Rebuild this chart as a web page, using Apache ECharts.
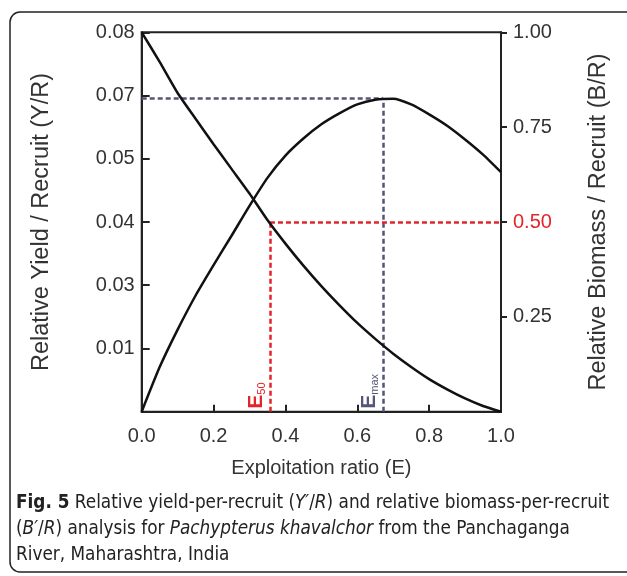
<!DOCTYPE html>
<html><head><meta charset="utf-8">
<script src="https://cdn.jsdelivr.net/npm/echarts@6/dist/echarts.min.js"></script>
<style>html,body{margin:0;padding:0;background:#fff}#c{width:627px;height:576px}</style>
</head><body><div id="c"></div>
<script>
// Exploitation ratio E
const exploitation = [0,0.05,0.10,0.15,0.20,0.25,0.30,0.35,0.40,0.45,0.50,0.55,0.60,0.65,0.70,0.75,0.80,0.85,0.90,0.95,1.00];
// Relative yield per recruit (left axis)
const yieldPerRecruit = [0,0.0094,0.0173,0.0245,0.0309,0.0371,0.0434,0.0493,0.0540,0.0576,0.0606,0.0629,0.0648,0.0658,0.0660,0.0648,0.0627,0.0603,0.0574,0.0542,0.0505];
// Relative biomass per recruit (right axis)
const biomassPerRecruit = [1.000,0.922,0.840,0.772,0.705,0.640,0.575,0.505,0.443,0.385,0.331,0.281,0.234,0.192,0.153,0.118,0.086,0.059,0.035,0.015,0.000];
// Reference points
const E50 = 0.357;
const Emax = 0.672;
const yieldMax = 0.0660;
const biomass50 = 0.50;
// Tick labels
const xTickLabels = ['0.0','0.2','0.4','0.6','0.8','1.0'];
const leftTickValues = [0.08/6, 0.16/6, 0.24/6, 0.32/6, 0.40/6, 0.48/6];
const leftTickLabels = ['0.01','0.03','0.04','0.05','0.07','0.08'];
const rightTickValues = [0.25,0.50,0.75,1.00];
const rightTickLabels = ['0.25','0.50','0.75','1.00'];

const FONT = "'Liberation Sans', Arial, sans-serif";
const CAP = "'DejaVu Sans Condensed', sans-serif";
const CS = 18.8;
const AX = '#222';
const RED = '#e3242b';
const SLATE = '#55557a';

const chart = echarts.init(document.getElementById('c'), null, {renderer:'canvas'});
const pairs = (ys) => exploitation.map((e,i)=>[e, ys[i]]);

chart.setOption({
  animation:false,
  backgroundColor:'#fff',
  textStyle:{fontFamily:FONT},
  grid:{left:141.7, right:126, top:32.3, bottom:164.3, show:true, borderColor:AX, borderWidth:2, backgroundColor:'transparent'},
  xAxis:{
    type:'value', min:0, max:1, interval:0.2,
    axisLine:{lineStyle:{color:AX,width:2}},
    axisTick:{inside:true,length:7,lineStyle:{color:AX,width:2}},
    splitLine:{show:false},
    axisLabel:{fontSize:20, color:'#333', margin:15, fontFamily:FONT,
      formatter:(v)=>xTickLabels[Math.round(v/0.2)]},
    name:'Exploitation ratio (E)', nameLocation:'middle', nameGap:47,
    nameTextStyle:{fontSize:20, color:'#333', fontFamily:FONT}
  },
  yAxis:[{
    type:'value', min:0, max:0.08, position:'left',
    axisLine:{show:true,lineStyle:{color:AX,width:2}},
    axisTick:{show:true,inside:true,length:8,lineStyle:{color:AX,width:2},customValues:leftTickValues},
    splitLine:{show:false},
    axisLabel:{fontSize:20,color:'#333',margin:7,fontFamily:FONT,customValues:leftTickValues,
      formatter:(v)=>{let best=0,d=1;leftTickValues.forEach((t,i)=>{if(Math.abs(t-v)<d){d=Math.abs(t-v);best=i;}});return leftTickLabels[best];}},
    name:'Relative Yield / Recruit (Y/R)', nameLocation:'middle', nameGap:88,
    nameTextStyle:{fontSize:23.5,color:'#333',fontFamily:FONT}
  },{
    type:'value', min:0, max:1, position:'right',
    axisLine:{show:true,lineStyle:{color:AX,width:2}},
    axisTick:{show:true,inside:false,length:6,lineStyle:{color:AX,width:2},customValues:rightTickValues},
    splitLine:{show:false},
    axisLabel:{fontSize:20,margin:12,fontFamily:FONT,customValues:rightTickValues,
      color:(v)=>Math.abs(v-biomass50)<1e-6?RED:'#333',
      formatter:(v)=>rightTickLabels[Math.round(v/0.25)-1]},
    name:'Relative Biomass / Recruit (B/R)', nameLocation:'middle', nameGap:86,
    nameTextStyle:{fontSize:23.5,color:'#333',fontFamily:FONT}
  }],
  series:[{
    name:'Y/R', type:'line', xAxisIndex:0, yAxisIndex:0, data:pairs(yieldPerRecruit),
    showSymbol:false, smooth:0.2, lineStyle:{color:'#111',width:2.5}, z:5,
    markLine:{silent:true, symbol:['none','none'], animation:false,
      lineStyle:{color:SLATE,type:[5,3],width:2.5},
      data:[
        [{coord:[0,yieldMax],label:{show:false}},{coord:[Emax,yieldMax]}],
        [{coord:[Emax,0],label:{show:true,position:'insideStartTop',distance:3,
          formatter:'{e|E}{s|max}',
          rich:{e:{fontSize:21,fontWeight:'bold',color:SLATE,fontFamily:FONT,verticalAlign:'bottom'},
                s:{fontSize:11,color:SLATE,fontFamily:FONT,verticalAlign:'bottom'}}}},
         {coord:[Emax,yieldMax]}]
      ]}
  },{
    name:'B/R', type:'line', xAxisIndex:0, yAxisIndex:1, data:pairs(biomassPerRecruit),
    showSymbol:false, smooth:0.2, lineStyle:{color:'#111',width:2.5}, z:5,
    markLine:{silent:true, symbol:['none','none'], animation:false,
      lineStyle:{color:RED,type:[5,3],width:2.5},
      data:[
        [{coord:[E50,0],label:{show:true,position:'insideStartTop',distance:3,
          formatter:'{e|E}{s|50}',
          rich:{e:{fontSize:21,fontWeight:'bold',color:RED,fontFamily:FONT,verticalAlign:'bottom'},
                s:{fontSize:11,color:RED,fontFamily:FONT,verticalAlign:'bottom'}}}},
         {coord:[E50,biomass50]}],
        [{coord:[E50,biomass50],label:{show:false}},{coord:[1,biomass50]}]
      ]}
  }],
  graphic:[
    {type:'rect', z:-10, silent:true, shape:{x:10,y:12,width:650,height:560,r:10},
      style:{fill:'none',stroke:'#222',lineWidth:1.5}},
    {type:'text', left:16, top:494, silent:true, style:{
      text:'{b|Fig. 5} Relative yield-per-recruit ({i|Y\u2032}/{i|R}) and relative biomass-per-recruit',
      rich:{b:{fontWeight:'bold',fontSize:CS,fontFamily:CAP,fill:'#222'},
            i:{fontStyle:'italic',fontSize:CS,fontFamily:CAP,fill:'#222'}},
      fontSize:CS, fontFamily:CAP, fill:'#222'}},
    {type:'text', left:16, top:520, silent:true, style:{
      text:'({i|B\u2032}/{i|R}) analysis for {i|Pachypterus khavalchor} from the Panchaganga',
      rich:{i:{fontStyle:'italic',fontSize:CS,fontFamily:CAP,fill:'#222'}},
      fontSize:CS, fontFamily:CAP, fill:'#222'}},
    {type:'text', left:16, top:546, silent:true, style:{
      text:'River, Maharashtra, India',
      fontSize:CS, fontFamily:CAP, fill:'#222'}}
  ]
});
</script>
</body></html>
